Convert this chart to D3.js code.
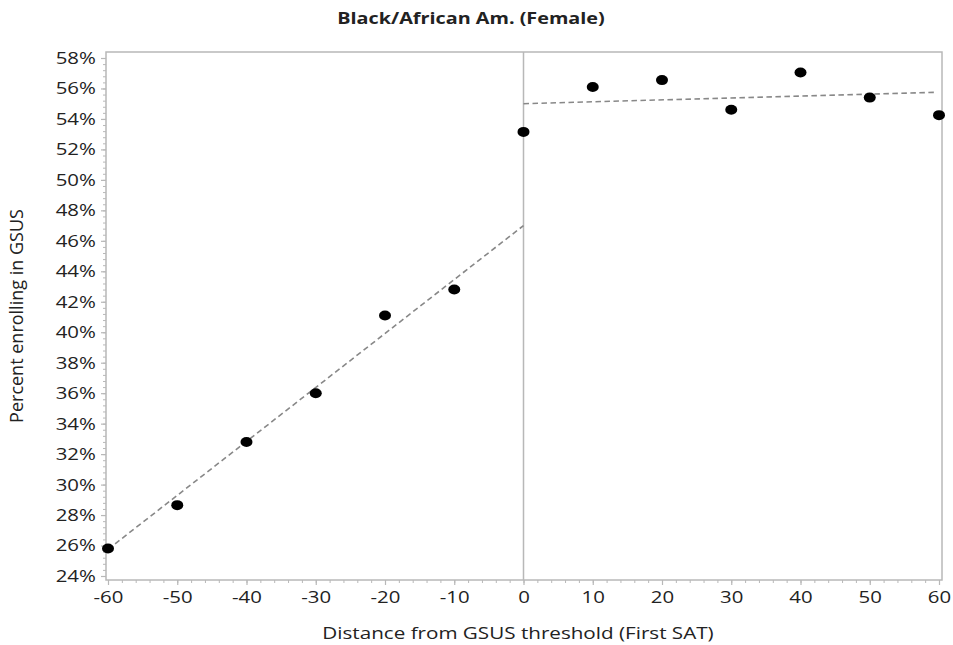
<!DOCTYPE html>
<html>
<head>
<meta charset="utf-8">
<script src="https://cdn.jsdelivr.net/npm/d3@7"></script>
<style>
  body { margin: 0; background: #fff; }
  svg text { font-family: "Open Sans", sans-serif; fill: #222; }
</style>
</head>
<body>
<svg id="viz" width="953" height="645"></svg>
<script>
// distance from threshold and enrolment share (%)
var distances = [-60, -50, -40, -30, -20, -10, 0, 10, 20, 30, 40, 50, 60];
var enrollPct = [25.8, 28.65, 32.8, 36.0, 41.1, 42.8, 53.15, 56.1, 56.55, 54.6, 57.05, 55.4, 54.25];

// fitted lines either side of the cutoff
var fitLeft = [[-60, 25.75], [0, 47.0]];
var fitRight = [[0, 55.0], [59.7, 55.75]];

var xTicks = d3.range(-60, 61, 10);
var yTicks = d3.range(24, 59, 2);

var title = "Black/African Am. (Female)";
var xLabel = "Distance from GSUS threshold (First SAT)";
var yLabel = "Percent enrolling in GSUS";

var svg = d3.select("#viz");
var stretch = "scale(1.2,1)";

var x = d3.scaleLinear().domain([-60, 60]).range([108, 939]);
var y = d3.scaleLinear().domain([24, 58]).range([576, 58]);

var frame = { left: 106, right: 942, top: 52, bottom: 580 };
var axisColor = "#b8b8b8";

// frame
svg.append("rect")
    .attr("x", frame.left).attr("y", frame.top)
    .attr("width", frame.right - frame.left)
    .attr("height", frame.bottom - frame.top)
    .attr("fill", "none").attr("stroke", axisColor).attr("stroke-width", 1.5);

// cutoff line
svg.append("line")
    .attr("x1", x(0)).attr("x2", x(0))
    .attr("y1", frame.top).attr("y2", frame.bottom)
    .attr("stroke", axisColor).attr("stroke-width", 1.5);

// minor ticks
var yMinor = svg.append("g").attr("transform", "translate(" + frame.left + ",0)")
    .call(d3.axisLeft(y).tickValues(d3.range(24, 58.01, 0.4)).tickSize(3).tickFormat(""));
var xMinor = svg.append("g").attr("transform", "translate(0," + frame.bottom + ")")
    .call(d3.axisBottom(x).tickValues(d3.range(-60, 60.01, 2)).tickSize(3).tickFormat(""));
[yMinor, xMinor].forEach(function (g) {
    g.select(".domain").remove();
    g.selectAll("line").attr("stroke", axisColor);
});

// major axes
var yAxis = svg.append("g").attr("transform", "translate(" + frame.left + ",0)")
    .call(d3.axisLeft(y).tickValues(yTicks).tickSize(5).tickPadding(4)
        .tickFormat(function (d) { return d + "%"; }));
var xAxis = svg.append("g").attr("transform", "translate(0," + frame.bottom + ")")
    .call(d3.axisBottom(x).tickValues(xTicks).tickSize(5).tickPadding(6)
        .tickFormat(function (d) { return String(d); }));
[yAxis, xAxis].forEach(function (g) {
    g.select(".domain").remove();
    g.selectAll("line").attr("stroke", axisColor).attr("stroke-width", 1.2);
    g.selectAll("text").style("font-size", "17px").style("font-family", "Open Sans, sans-serif")
        .attr("fill", "#222");
});
yAxis.selectAll("text").attr("x", -8.5).attr("transform", stretch);
xAxis.selectAll("text").attr("transform", stretch);

// fit lines
var line = d3.line().x(function (d) { return x(d[0]); }).y(function (d) { return y(d[1]); });
[fitLeft, fitRight].forEach(function (seg) {
    svg.append("path")
        .attr("d", line(seg))
        .attr("fill", "none")
        .attr("stroke", "#888")
        .attr("stroke-width", 1.6)
        .attr("stroke-dasharray", "5.5,3.5");
});

// points
svg.append("g").selectAll("ellipse")
    .data(distances)
    .join("ellipse")
    .attr("cx", function (d) { return x(d); })
    .attr("cy", function (d, i) { return y(enrollPct[i]); })
    .attr("rx", 6).attr("ry", 5)
    .attr("fill", "#000");

// title and labels
svg.append("text")
    .attr("transform", "translate(471,24) " + stretch)
    .attr("text-anchor", "middle")
    .style("font-size", "16.5px").style("font-weight", "bold")
    .text(title);

svg.append("text")
    .attr("transform", "translate(518,639) " + stretch)
    .attr("text-anchor", "middle")
    .style("font-size", "17.2px")
    .text(xLabel);

svg.append("text")
    .attr("transform", "translate(23,316) rotate(-90)")
    .attr("text-anchor", "middle")
    .style("font-size", "18px")
    .text(yLabel);
</script>
</body>
</html>
